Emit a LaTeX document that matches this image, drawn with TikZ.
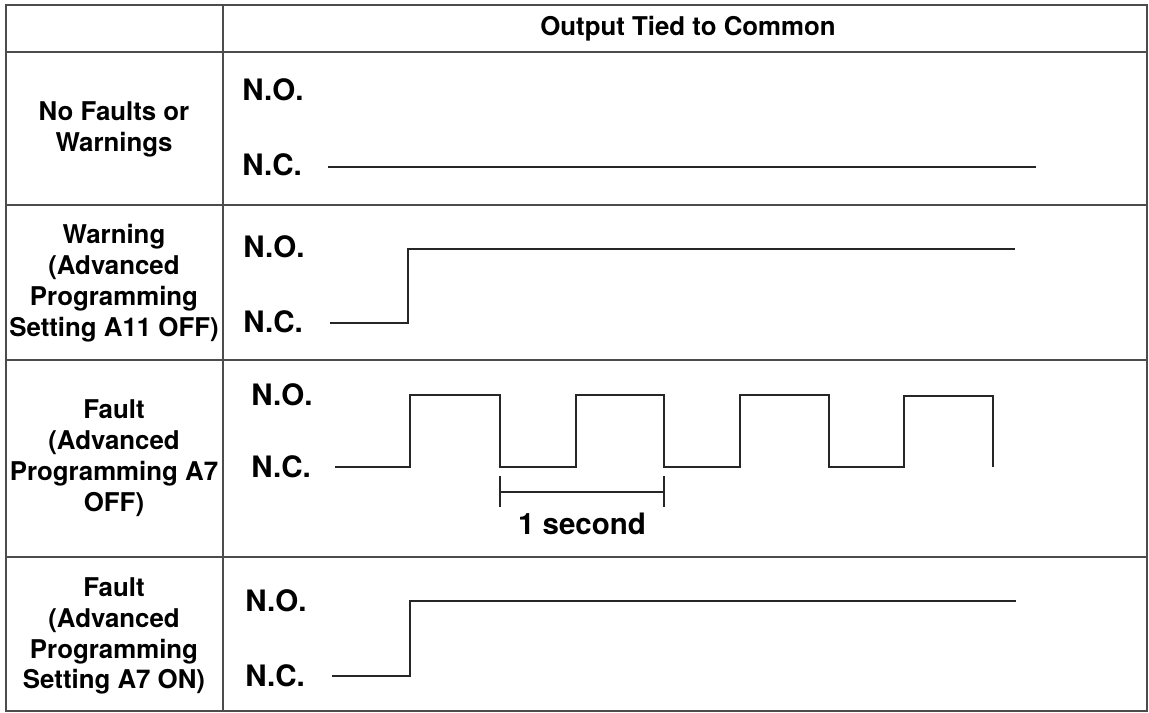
\documentclass[tikz,border=0pt]{standalone}
\usepackage{fontspec}
\setmainfont{TeX Gyre Heros}

\begin{document}
\begin{tikzpicture}[x=0.02cm,y=-0.02cm,
	grid_line/.style={draw=black!70,line width=1.1pt},
	signal_line/.style={draw=black!85,line width=1.2pt,line join=miter},
	row_label/.style={align=center,inner sep=0pt,font=\fontsize{14.7}{17.6}\selectfont\bfseries},
	contact_label/.style={anchor=west,inner sep=0pt,font=\fontsize{16.8}{18}\selectfont\bfseries}]

		\useasboundingbox (0,0) rectangle (1149,713);

		\draw[grid_line] (6,5) rectangle (1147,711);
		\draw[grid_line] (223,5) -- (223,711);
		\draw[grid_line] (6,52) -- (1147,52);
		\draw[grid_line] (6,205) -- (1147,205);
		\draw[grid_line] (6,360) -- (1147,360);
		\draw[grid_line] (6,557) -- (1147,557);

		\node[row_label] (head) at (688,29) {Output Tied to Common};

		\node[row_label] (state1) at (114,129) {No Faults or\\Warnings};
		\node[row_label] (state2) at (114,283) {Warning\\(Advanced\\Programming\\Setting A11 OFF)};
		\node[row_label] (state3) at (114,458) {Fault\\(Advanced\\Programming A7\\OFF)};
		\node[row_label] (state4) at (114,636) {Fault\\(Advanced\\Programming\\Setting A7 ON)};

		\node[contact_label] (no1) at (242,90) {N.O.};
		\node[contact_label] (nc1) at (242,165) {N.C.};
		\node[contact_label] (no2) at (243,247) {N.O.};
		\node[contact_label] (nc2) at (243,322) {N.C.};
		\node[contact_label] (no3) at (251,395) {N.O.};
		\node[contact_label] (nc3) at (251,467) {N.C.};
		\node[contact_label] (no4) at (245,601) {N.O.};
		\node[contact_label] (nc4) at (245,676) {N.C.};

		\draw[signal_line] (328,167) -- (1036,167);
		\draw[signal_line] (330,323) -- (408,323) -- (408,249) -- (1015,249);
		\draw[signal_line] (335,467) -- (410,467) -- (410,395) -- (500,395) -- (500,467)
			-- (576,467) -- (576,395) -- (664,395) -- (664,467)
			-- (740,467) -- (740,395) -- (829,395) -- (829,467)
			-- (904,467) -- (904,396) -- (993,396) -- (993,467);
		\draw[signal_line] (332,676) -- (410,676) -- (410,601) -- (1016,601);

		\coordinate (tick_a) at (500,492);
		\coordinate (tick_b) at (664,492);
		\draw[signal_line] (tick_a) -- (tick_b);
		\draw[signal_line] ([yshift=0.32cm]tick_a) -- ([yshift=-0.30cm]tick_a);
		\draw[signal_line] ([yshift=0.32cm]tick_b) -- ([yshift=-0.30cm]tick_b);
		\node[contact_label,anchor=center] (period) at (582,524) {1 second};
		\end{tikzpicture}
\end{document}
